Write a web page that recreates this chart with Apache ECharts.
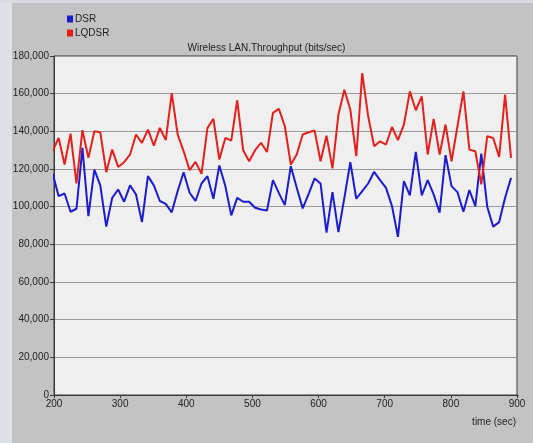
<!DOCTYPE html>
<html>
<head>
<meta charset="utf-8">
<script src="https://cdn.jsdelivr.net/npm/echarts@6/dist/echarts.min.js"></script>
<style>
  html, body { margin: 0; padding: 0; background: #c3c3c3; }
  #container { width: 533px; height: 443px; }
</style>
</head>
<body>
<div id="container"></div>
<script>
  // sample times (sec)
  const times = [198, 207, 216, 225, 234, 243, 252, 261, 270, 279, 288, 297, 306, 315, 324, 333, 342, 351, 360, 369,
    378, 387, 396, 405, 414, 423, 432, 441, 450, 459, 468, 477, 486, 495, 504, 513, 522, 531, 540, 549,
    558, 567, 576, 585, 594, 603, 612, 621, 630, 639, 648, 657, 666, 675, 684, 693, 702, 711, 720, 729,
    738, 747, 756, 765, 774, 783, 792, 801, 810, 819, 828, 837, 846, 855, 864, 873, 882, 891];

  const dsr = [117500, 105600, 107000, 97300, 98900, 131200, 95000, 119700, 111300, 89400,
    104700, 109100, 102600, 111300, 106500, 91800, 116200, 111300, 103000, 101500,
    97000, 108300, 118300, 107400, 103000, 112300, 116200, 104200, 121900, 111000,
    95400, 104700, 102600, 102600, 99400, 98500, 98000, 114100, 107200, 100800,
    121500, 110000, 99100, 106800, 115000, 112300, 86200, 107700, 86500, 104700,
    123600, 104200, 108300, 112300, 118500, 114100, 110000, 100300, 84000, 113600,
    106000, 129100, 106000, 114100, 106500, 96800, 127400, 110900, 107700, 97300,
    108800, 100300, 128200, 100000, 89400, 91800, 104700, 115300];

  const lqdsr = [129500, 136500, 122400, 138800, 112300, 140600, 125900, 140000, 139500, 118300,
    130300, 121100, 123600, 127700, 138300, 133900, 140900, 132400, 141800, 135300,
    160300, 138300, 129400, 119400, 123800, 117400, 141800, 146600, 125000, 136500,
    135100, 156500, 130000, 124100, 130000, 133900, 129000, 149800, 151900, 142700,
    122400, 127700, 138300, 139500, 140400, 124100, 137700, 120300, 148900, 162100,
    151500, 126800, 170900, 148000, 132100, 134700, 133000, 142300, 135300, 143600,
    161200, 151200, 158600, 127700, 146600, 127700, 143600, 124100, 142700, 161200,
    130300, 129400, 111800, 137400, 136500, 126400, 159500, 125900];

  const seriesNames = ['DSR', 'LQDSR'];
  const seriesColors = ['#1c1ccf', '#e3201b'];

  const font = 'Liberation Sans, Arial, sans-serif';

  function pairs(vals) {
    return times.map((t, i) => [t, vals[i]]);
  }

  let chart = echarts.init(document.getElementById('container'));
  let option = {
    backgroundColor: '#c3c3c3',
    animation: false,
    color: seriesColors,
    textStyle: { fontFamily: font },
    legend: {
      data: seriesNames,
      orient: 'vertical',
      left: 62,
      top: 8,
      icon: 'rect',
      itemWidth: 6,
      itemHeight: 7,
      itemGap: 2,
      textStyle: { fontSize: 10, color: '#222', lineHeight: 12, padding: [0, 0, 0, -3] }
    },
    graphic: [
      { type: 'rect', shape: { x: 0, y: 0, width: 12, height: 443 }, style: { fill: '#dde1e6' }, z: -1 },
      { type: 'rect', shape: { x: 0, y: 0, width: 533, height: 3 }, style: { fill: '#d8dbe0' }, z: -1 },
      {
        type: 'text', left: 'center', top: 43,
        style: { text: 'Wireless LAN.Throughput (bits/sec)', fontSize: 10, fill: '#222', fontFamily: font },
        x: 28
      },
      {
        type: 'text', right: 17, top: 417,
        style: { text: 'time (sec)', fontSize: 10, fill: '#222', fontFamily: font }
      },
      {
        type: 'text', left: 513, top: 390,
        style: { text: '...', fontSize: 8, fill: '#222', fontFamily: font }
      }
    ],
    grid: {
      left: 54,
      right: 16,
      top: 56,
      bottom: 48,
      show: true,
      backgroundColor: '#efefef',
      borderColor: '#3a3a3a',
      borderWidth: 1
    },
    xAxis: {
      type: 'value',
      min: 200,
      max: 900,
      interval: 100,
      axisLine: { show: true, lineStyle: { color: '#3a3a3a', width: 1 } },
      axisTick: { show: true, length: 3, lineStyle: { color: '#3a3a3a' } },
      axisLabel: { color: '#222', fontSize: 10, margin: 4 },
      splitLine: { show: false }
    },
    yAxis: {
      type: 'value',
      min: 0,
      max: 180000,
      interval: 20000,
      axisLine: { show: true, lineStyle: { color: '#3a3a3a', width: 1 } },
      axisTick: { show: true, length: 4, lineStyle: { color: '#3a3a3a' } },
      axisLabel: {
        color: '#222',
        fontSize: 10,
        margin: 5,
        formatter: function (v) {
          return String(v).replace(/\B(?=(\d{3})+(?!\d))/g, ',');
        }
      },
      splitLine: { show: true, lineStyle: { color: '#9a9a9a', width: 1 } }
    },
    series: [
      {
        name: seriesNames[0],
        type: 'line',
        data: pairs(dsr),
        symbol: 'none',
        lineStyle: { width: 2 },
        clip: true
      },
      {
        name: seriesNames[1],
        type: 'line',
        data: pairs(lqdsr),
        symbol: 'none',
        lineStyle: { width: 2 },
        clip: true
      }
    ]
  };
  chart.setOption(option);
</script>
</body>
</html>
